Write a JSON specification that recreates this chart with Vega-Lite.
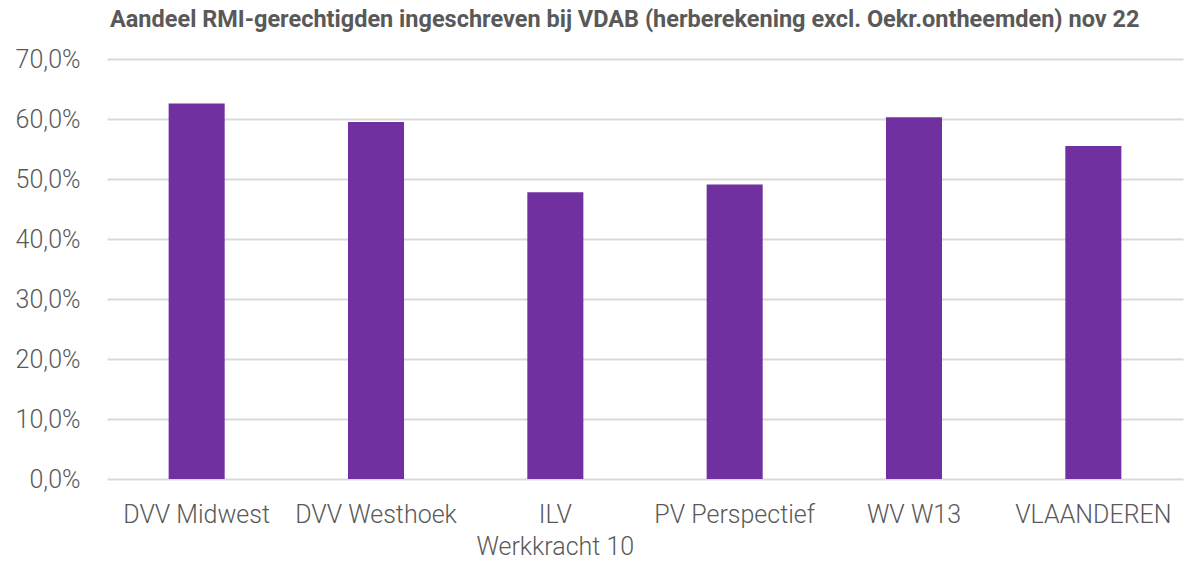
{
  "$schema": "https://vega.github.io/schema/vega-lite/v6.json",
  "width": 1076,
  "height": 420,
  "autosize": "none",
  "padding": {"left": 107, "top": 59, "right": 1, "bottom": 84},
  "background": "white",
  "title": {
    "text": "Aandeel RMI-gerechtigden ingeschreven bij VDAB (herberekening excl. Oekr.ontheemden) nov 22",
    "anchor": "start",
    "frame": "group",
    "dx": 3,
    "offset": -3,
    "baseline": "alphabetic",
    "font": "Roboto",
    "fontSize": 23.5,
    "fontWeight": "bold",
    "color": "#595959"
  },
  "data": {
    "values": [
      {"regio": "DVV Midwest", "aandeel": 0.626},
      {"regio": "DVV Westhoek", "aandeel": 0.595},
      {"regio": "ILV Werkkracht 10", "aandeel": 0.478},
      {"regio": "PV Perspectief", "aandeel": 0.491},
      {"regio": "WV W13", "aandeel": 0.603},
      {"regio": "VLAANDEREN", "aandeel": 0.555}
    ]
  },
  "mark": {"type": "bar", "color": "#7030A0"},
  "encoding": {
    "x": {
      "field": "regio",
      "type": "nominal",
      "sort": null,
      "scale": {"paddingInner": 0.6875, "paddingOuter": 0.34375},
      "axis": {
        "title": null,
        "labelAngle": 0,
        "domain": false,
        "ticks": false,
        "labelPadding": 23,
        "labelFont": "Roboto",
        "labelFontWeight": 300,
        "labelFontSize": 25,
        "labelColor": "#595959",
        "labelLineHeight": 32,
        "labelBaseline": "top",
        "labelExpr": "datum.value == 'ILV Werkkracht 10' ? ['ILV', 'Werkkracht 10'] : datum.value"
      }
    },
    "y": {
      "field": "aandeel",
      "type": "quantitative",
      "scale": {"domain": [0, 0.7], "nice": false},
      "axis": {
        "title": null,
        "values": [0, 0.1, 0.2, 0.3, 0.4, 0.5, 0.6, 0.7],
        "labelExpr": "replace(format(datum.value, '.1%'), '.', ',')",
        "domain": false,
        "ticks": false,
        "grid": true,
        "gridColor": "#D9D9D9",
        "gridWidth": 2,
        "labelPadding": 27,
        "labelFont": "Roboto",
        "labelFontWeight": 300,
        "labelFontSize": 25,
        "labelColor": "#595959"
      }
    }
  },
  "config": {"view": {"stroke": null}}
}
